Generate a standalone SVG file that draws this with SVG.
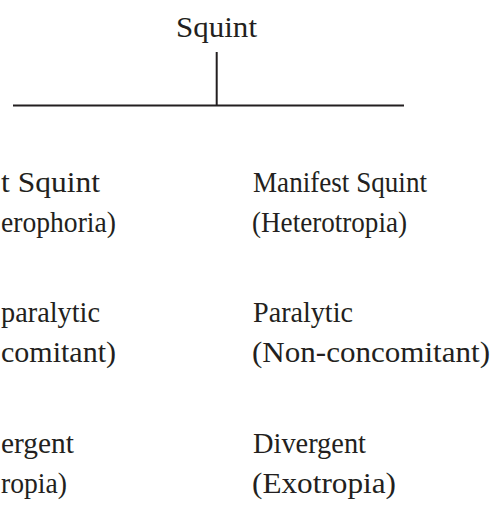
<svg xmlns="http://www.w3.org/2000/svg" width="495" height="510" viewBox="0 0 495 510">
<style>
text{font-family:"Liberation Serif","Times New Roman",serif;font-size:29px;fill:#231f20}
.c{stroke:#231f20;stroke-width:2;fill:none}
</style>
<rect width="495" height="510" fill="#fff"/>
<g id="connectors">
<line class="c" x1="216.7" y1="52" x2="216.7" y2="106"/>
<line class="c" x1="13" y1="105.5" x2="404" y2="105.5"/>
</g>
<g id="root"><text x="176" y="37" textLength="81" lengthAdjust="spacingAndGlyphs">Squint</text></g>
<g id="latent">
<text x="1" y="192" textLength="99" lengthAdjust="spacingAndGlyphs">t Squint</text>
<text x="1" y="232" textLength="115" lengthAdjust="spacingAndGlyphs">erophoria)</text>
</g>
<g id="manifest">
<text x="253" y="192" textLength="174" lengthAdjust="spacingAndGlyphs">Manifest Squint</text>
<text x="252" y="232" textLength="155" lengthAdjust="spacingAndGlyphs">(Heterotropia)</text>
</g>
<g id="nonparalytic">
<text x="1" y="322" textLength="99" lengthAdjust="spacingAndGlyphs">paralytic</text>
<text x="1" y="362" textLength="115" lengthAdjust="spacingAndGlyphs">comitant)</text>
</g>
<g id="paralytic">
<text x="253" y="322" textLength="100" lengthAdjust="spacingAndGlyphs">Paralytic</text>
<text x="252" y="362" textLength="238" lengthAdjust="spacingAndGlyphs">(Non-concomitant)</text>
</g>
<g id="convergent">
<text x="1" y="453" textLength="73" lengthAdjust="spacingAndGlyphs">ergent</text>
<text x="1" y="493" textLength="66" lengthAdjust="spacingAndGlyphs">ropia)</text>
</g>
<g id="divergent">
<text x="253" y="453" textLength="113" lengthAdjust="spacingAndGlyphs">Divergent</text>
<text x="252" y="493" textLength="144" lengthAdjust="spacingAndGlyphs">(Exotropia)</text>
</g>
</svg>
